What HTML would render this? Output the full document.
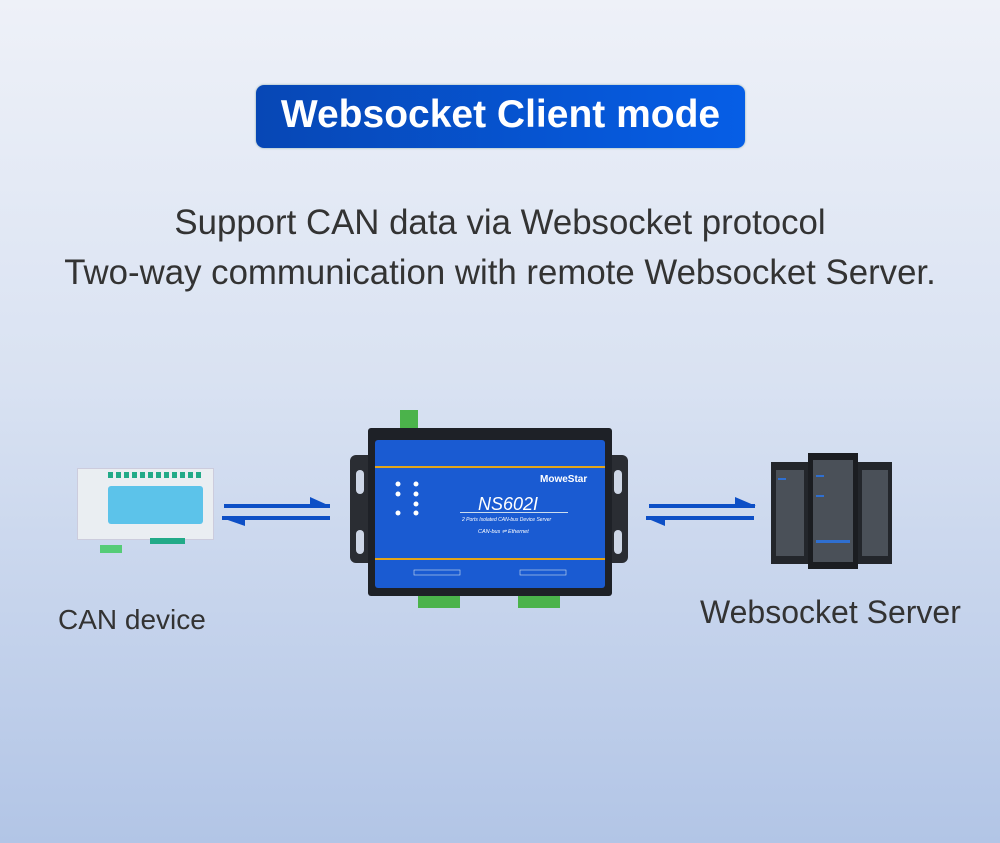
<!DOCTYPE html>
<html><head><style>
body{margin:0;width:1000px;height:843px;overflow:hidden;background:linear-gradient(180deg,#eef1f8 0%,#d9e2f2 45%,#b2c5e6 100%);font-family:"Liberation Sans",sans-serif;position:relative}
.a{position:absolute}
</style></head><body>
<div class="a" style="left:256px;top:85px;width:489px;height:63px;border-radius:8px;background:linear-gradient(90deg,#0747b5,#065ee6);box-shadow:0 0 2px #8aa"></div>
<div class="a" style="left:256px;top:85px;width:489px;height:63px;line-height:60px;text-align:center;color:#fff;font-weight:bold;font-size:39px">Websocket Client mode</div>
<div class="a" style="left:0;top:198px;width:1000px;text-align:center;font-size:34.8px;color:#333;line-height:50px">Support CAN data via Websocket protocol<br>Two-way communication with remote Websocket Server.</div>
<div class="a" style="left:58px;top:604px;font-size:28px;color:#333">CAN device</div>
<div class="a" style="left:700px;top:594px;font-size:32px;color:#333">Websocket Server</div>

<!-- CAN device -->
<div class="a" style="left:77px;top:468px;width:135px;height:70px;background:#eaeef2;border:1px solid #ccd"></div>
<div class="a" style="left:108px;top:486px;width:95px;height:38px;background:#5cc3ea;border-radius:3px"></div>
<div class="a" style="left:108px;top:472px;width:95px;height:6px;background:repeating-linear-gradient(90deg,#2a8 0 5px,transparent 5px 8px)"></div>
<div class="a" style="left:150px;top:538px;width:35px;height:6px;background:#2a8"></div>
<div class="a" style="left:100px;top:545px;width:22px;height:8px;background:#5c7"></div>

<svg class="a" style="left:0;top:0" width="1000" height="843">
<g fill="#0d4fc6" stroke="none">
<rect x="224" y="504" width="106" height="4"/><polygon points="310,497 330,506 310,506"/>
<rect x="222" y="516" width="108" height="4"/><polygon points="222,518 245,518 245,526"/>
<rect x="649" y="504" width="106" height="4"/><polygon points="735,497 756,506 735,506"/>
<rect x="646" y="516" width="108" height="4"/><polygon points="646,518 665,518 665,526"/>
</g>
<rect x="350" y="455" width="278" height="108" rx="6" fill="#2a2d33"/>
<rect x="356" y="470" width="8" height="24" rx="4" fill="#cdd6e6"/><rect x="356" y="530" width="8" height="24" rx="4" fill="#cdd6e6"/>
<rect x="614" y="470" width="8" height="24" rx="4" fill="#cdd6e6"/><rect x="614" y="530" width="8" height="24" rx="4" fill="#cdd6e6"/>
<rect x="400" y="410" width="18" height="20" fill="#4bb34b"/>
<rect x="368" y="428" width="244" height="168" rx="3" fill="#1e2127"/>
<rect x="375" y="440" width="230" height="148" rx="3" fill="#1a5bd2"/>
<rect x="375" y="466" width="230" height="2" fill="#e3a61a"/><rect x="375" y="558" width="230" height="2" fill="#e3a61a"/>
<text x="540" y="482" font-size="10" font-weight="bold" fill="#fff" font-family="Liberation Sans">MoweStar</text>
<text x="478" y="510" font-size="18" font-style="italic" fill="#fff" font-family="Liberation Sans">NS602I</text>
<rect x="460" y="512" width="108" height="1" fill="#cde"/>
<text x="462" y="521" font-size="5" font-style="italic" fill="#fff" font-family="Liberation Sans">2 Ports Isolated CAN-bus Device Server</text>
<text x="478" y="533" font-size="5.5" font-style="italic" fill="#fff" font-family="Liberation Sans">CAN-bus ⇌ Ethernet</text>
<g fill="#fff"><circle cx="398" cy="484" r="2.5"/><circle cx="398" cy="494" r="2.5"/><circle cx="398" cy="513" r="2.5"/><circle cx="416" cy="484" r="2.5"/><circle cx="416" cy="494" r="2.5"/><circle cx="416" cy="504" r="2.5"/><circle cx="416" cy="513" r="2.5"/></g>
<rect x="414" y="570" width="46" height="5" fill="none" stroke="#cde" stroke-width="0.6"/>
<rect x="520" y="570" width="46" height="5" fill="none" stroke="#cde" stroke-width="0.6"/>
<rect x="418" y="596" width="42" height="12" fill="#4bb34b"/><rect x="518" y="596" width="42" height="12" fill="#4bb34b"/>
<rect x="771" y="462" width="38" height="102" fill="#23262b"/>
<rect x="858" y="462" width="34" height="102" fill="#23262b"/>
<rect x="808" y="453" width="50" height="116" fill="#1b1d21"/>
<g fill="#4a5058"><rect x="776" y="470" width="28" height="86"/><rect x="862" y="470" width="26" height="86"/><rect x="813" y="460" width="40" height="102"/></g>
<g fill="#2f6fd0"><rect x="816" y="540" width="34" height="3"/><rect x="778" y="478" width="8" height="2"/><rect x="816" y="475" width="8" height="2"/><rect x="816" y="495" width="8" height="2"/></g>
</svg>
</body></html>
